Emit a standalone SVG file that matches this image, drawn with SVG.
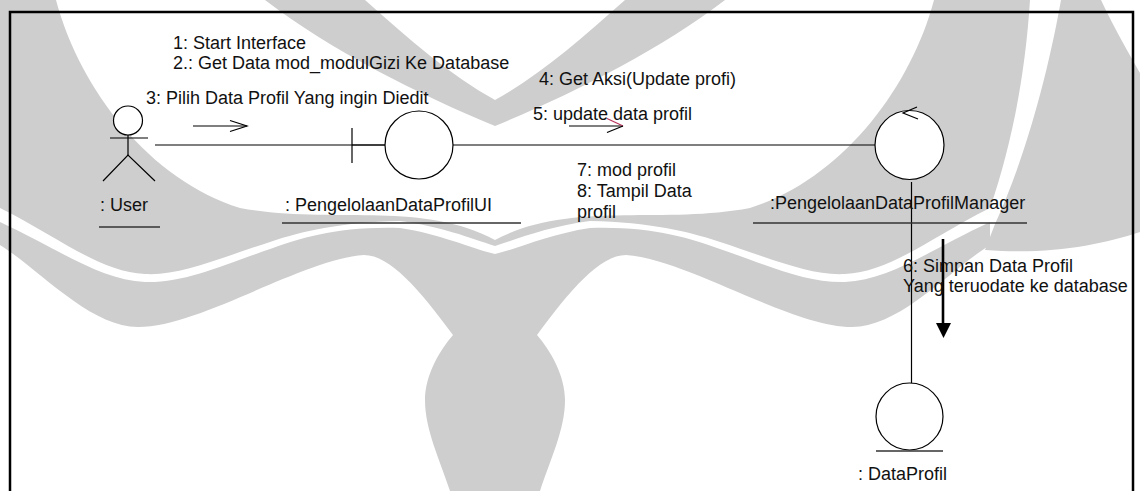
<svg xmlns="http://www.w3.org/2000/svg" width="1140" height="491" viewBox="0 0 1140 491">
  <style>
    .wm { fill: #cecece; stroke: none; }
    .ln { fill: none; stroke: #000; stroke-width: 1.2; }
    .ul { fill: none; stroke: #333; stroke-width: 1.3; }
    .obj { fill: #fff; stroke: #000; stroke-width: 1.2; }
    text { font-family: "Liberation Sans", Arial, sans-serif; font-size: 18px; fill: #111; }
  </style>
  <rect width="1140" height="491" fill="#fff"/>

  <!-- background watermark emblem, symmetric about x=495 -->
  <g id="watermark">
    <g id="wm-half">
      <!-- upper V arm -->
      <path class="wm" d="M 265 0 L 365 0 C 410 40, 450 75, 495 100 L 495 126 C 420 95, 330 50, 265 0 Z"/>
      <!-- inner wing, from the top corner down to the centre notch -->
      <path class="wm" d="M -40 0 L 56 0 C 80 90, 150 180, 240 208 C 330 225, 420 200, 495 240 L 495 246 C 470 238, 440 226, 400 221 C 340 222, 300 232, 273 241 C 220 258, 180 276, 145 274 C 100 272, 60 238, 0 208 C -20 150, -35 80, -40 0 Z"/>
      <!-- outer wavy wing and the stem -->
      <path class="wm" d="M 495 254 C 470 248, 440 234, 400 228 C 340 226, 300 238, 273 248 C 220 266, 185 283, 145 282 C 100 280, 60 250, 0 222 L 0 245 C 40 270, 90 327, 138 327 C 200 327, 300 260, 364 255 C 390 255, 420 290, 453 335 C 440 350, 425 375, 425 400 C 425 430, 440 460, 450 491 L 495 491 Z"/>
    </g>
    <use href="#wm-half" transform="matrix(-1 0 0 1 990 0)"/>
    <!-- outer wing rising along the right edge -->
    <path class="wm" d="M 995 224 C 1020 170, 1045 90, 1061 0 L 1101 0 C 1115 30, 1130 55, 1140 73 L 1140 232 C 1100 245, 1050 255, 985 250 Z"/>
  </g>

  <!-- frame -->
  <rect x="10" y="12" width="1123" height="500" fill="none" stroke="#000" stroke-width="2.5"/>

  <!-- links between objects -->
  <g id="connectors">
    <line class="ln" x1="155" y1="145" x2="385" y2="145"/>
    <line class="ln" x1="453" y1="145" x2="875" y2="145"/>
    <line class="ln" x1="911.5" y1="182" x2="911.5" y2="383"/>
  </g>

  <!-- message arrows -->
  <g id="messages">
    <line class="ln" x1="193" y1="126" x2="247" y2="126"/>
    <polyline class="ln" points="230,120.5 247,126 230,131.5"/>
    <line class="ln" x1="569" y1="126" x2="623" y2="126"/>
    <line fill="none" stroke="#b8325a" stroke-width="1.2" x1="607" y1="118.5" x2="623" y2="126"/>
    <line class="ln" x1="607" y1="132.5" x2="623" y2="126"/>
    <line stroke="#000" stroke-width="2.6" x1="943" y1="239" x2="943" y2="325"/>
    <polygon fill="#000" points="936,323 951,323 943.5,338"/>
  </g>

  <g id="message-labels">
    <text x="173" y="49">1: Start Interface</text>
    <text x="173" y="68.5">2.: Get Data mod_modulGizi Ke Database</text>
    <text x="146" y="104">3: Pilih Data Profil Yang ingin Diedit</text>
    <text x="539" y="85">4: Get Aksi(Update profi)</text>
    <text x="533" y="120">5: update data profil</text>
    <text x="577" y="176">7: mod profil</text>
    <text x="577" y="197">8: Tampil Data</text>
    <text x="577" y="218">profil</text>
    <text x="903" y="272">6: Simpan Data Profil</text>
    <text x="903" y="292">Yang teruodate ke database</text>
  </g>

  <!-- actor -->
  <g id="user">
    <circle class="obj" cx="128" cy="120.5" r="14.5"/>
    <line class="ln" x1="110" y1="138" x2="148" y2="138"/>
    <line class="ln" x1="128" y1="135" x2="128" y2="155"/>
    <polyline class="ln" points="103,181 128,155 155,181"/>
    <text x="100" y="211">: User</text>
    <line class="ul" x1="99" y1="227" x2="160" y2="227"/>
  </g>

  <!-- boundary object -->
  <g id="ui">
    <line class="ln" x1="352" y1="128" x2="352" y2="163"/>
    <line class="ln" x1="352" y1="145" x2="385" y2="145"/>
    <circle class="obj" cx="419" cy="145" r="34"/>
    <text x="285" y="211">: PengelolaanDataProfilUI</text>
    <line class="ul" x1="282" y1="223" x2="521" y2="223"/>
  </g>

  <!-- control object -->
  <g id="manager">
    <circle class="obj" cx="909.5" cy="145" r="34.5"/>
    <polyline class="ln" points="917,107 903,113 918,119"/>
    <text x="770" y="209">:PengelolaanDataProfilManager</text>
    <line class="ul" x1="753" y1="223" x2="1027" y2="223"/>
  </g>

  <!-- entity object -->
  <g id="dataprofil">
    <circle class="obj" cx="909.5" cy="416.5" r="33.5"/>
    <line class="ul" x1="876" y1="451" x2="943" y2="451"/>
    <text x="858" y="480">: DataProfil</text>
  </g>
</svg>
